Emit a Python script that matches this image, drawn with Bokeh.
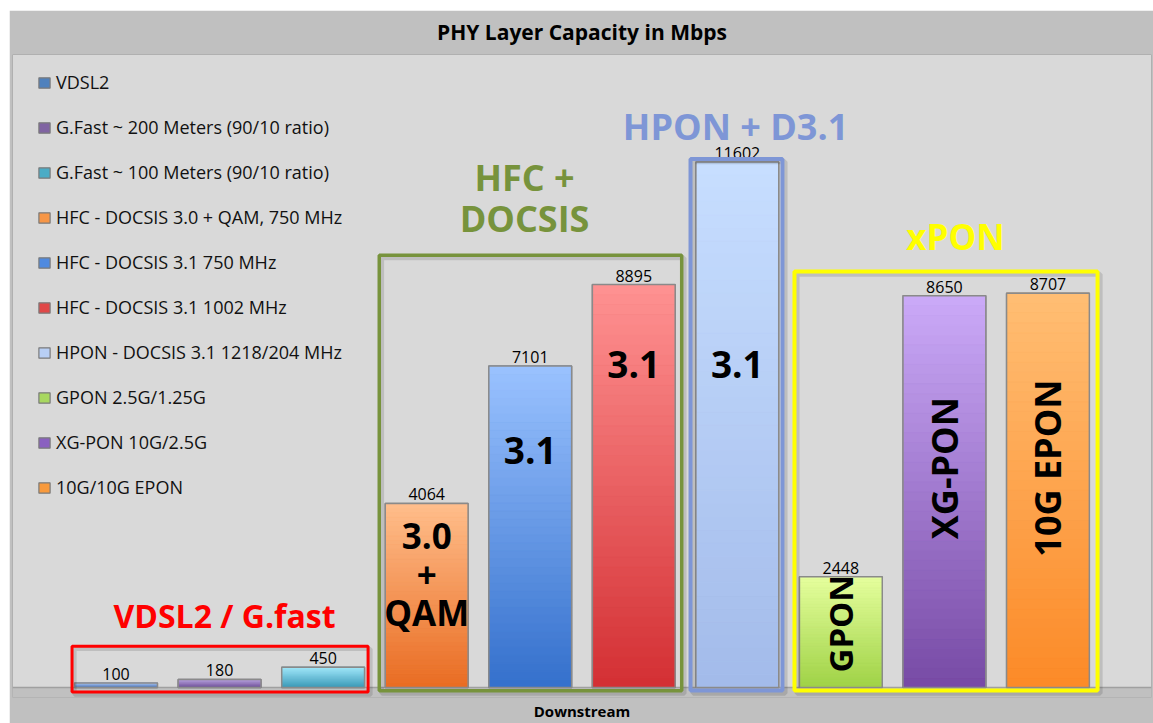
import numpy as np
from bokeh.plotting import figure
from bokeh.layouts import column, row
from bokeh.models import (ColumnDataSource, BoxAnnotation, Span, LinearAxis, FixedTicker,
                          Legend, LegendItem, Range1d, Spacer)
from bokeh.core.properties import value
from bokeh.embed import file_html
from bokeh.resources import INLINE

# ---------------- data ----------------
title_text = "PHY Layer Capacity in Mbps"
category = "Downstream"
series = [
    "VDSL2",
    "G.Fast ~ 200 Meters (90/10 ratio)",
    "G.Fast ~ 100 Meters (90/10 ratio)",
    "HFC - DOCSIS 3.0 + QAM, 750 MHz",
    "HFC - DOCSIS 3.1 750 MHz",
    "HFC - DOCSIS 3.1 1002 MHz",
    "HPON - DOCSIS 3.1 1218/204 MHz",
    "GPON 2.5G/1.25G",
    "XG-PON 10G/2.5G",
    "10G/10G EPON",
]
capacity = [100, 180, 450, 4064, 7101, 8895, 11602, 2448, 8650, 8707]
bar_tags = ["", "", "", "3.0\n+\nQAM", "3.1", "3.1", "3.1", "GPON", "XG-PON", "10G EPON"]
groups = ["VDSL2 / G.fast", "HFC +\nDOCSIS", "HPON + D3.1", "xPON"]
group_first = [0, 3, 6, 7]
group_last = [2, 5, 6, 9]

# ---------------- styles ----------------
top_colors = ["#a3bdea", "#b7a0dc", "#a2e8fb", "#ffbe8c", "#9ac2ff", "#ff9292",
              "#c7deff", "#e6ff9e", "#cbaaf8", "#ffbe74"]
bottom_colors = ["#3d6db6", "#694a93", "#3898b6", "#e96c22", "#3470cc", "#d32f33",
                 "#a3bbea", "#9fd246", "#774aa5", "#fc8a27"]
legend_colors = ["#4f81bd", "#8064a2", "#4bacc6", "#f79646", "#4f8ae0", "#e04848",
                 "#b8cff5", "#a8d860", "#8a60c0", "#f99a3c"]
group_colors = ["#ff0000", "#77933c", "#7e96d6", "#ffff00"]
group_sizes = ["32px", "36px", "36px", "35px"]
box_widths = [3, 3.5, 4, 4]
# layout of annotation boxes (padding in bar units / data units)
box_pad_left = [0.425, 0.458, 0.452, 0.448]
box_pad_right = [0.434, 0.463, 0.436, 0.479]
box_top = [912, 9542, 11668, 9185]
box_bottom = [-99, -71, -66, -66]
# layout of in-bar tags and group labels
tag_y = [0, 0, 0, 2505, 5230, 7141, 7141, 1410, 4845, 4845]
tag_rot = [0, 0, 0, 0, 0, 0, 0, 1, 1, 1]
tag_size = ["", "", "", "35px", "37px", "37px", "37px", "33px", "36px", "36px"]
group_x = [1.048, 3.945, 5.983, 8.107]
group_y = [1582, 10811, 12393, 9954]

FONT = "Open Sans"
BORDER = "#c0c0c0"
PANEL = "#d9d9d9"

idx = list(range(len(series)))

p = figure(width=1144, height=713, output_backend="svg", toolbar_location=None,
           x_range=Range1d(-1.0, 10.0), y_range=Range1d(-220, 13975),
           x_axis_location=None, y_axis_location=None,
           min_border_left=3, min_border_right=2, min_border_top=42, min_border_bottom=25,
           background_fill_color=PANEL, border_fill_color=BORDER)
p.outline_line_color = "#b0b0b0"
p.xgrid.visible = False
p.ygrid.visible = False

p.title.text = title_text
p.title.align = "center"
p.title.vertical_align = "top"
p.title.text_font = FONT
p.title.text_font_size = "21px"
p.title.text_font_style = "bold"
p.title.text_color = "#000000"
p.title.standoff = 14

# lower band below baseline
p.add_layout(BoxAnnotation(top=0, fill_color=BORDER, fill_alpha=1.0, line_color=None, level="underlay"))
p.add_layout(Span(location=0, dimension="width", line_color="#a0a0a0", line_width=1.5, level="underlay"))

src = ColumnDataSource(dict(x=idx, top=capacity, fill=legend_colors, name=series,
                            lbl=[str(v) for v in capacity]))
base = p.vbar(x="x", top="top", width=0.8, source=src, fill_color="fill",
              line_color="#7a7a7a", line_width=1.2)

def hx(c):
    c = c.lstrip("#")
    return np.array([int(c[i:i + 2], 16) for i in (0, 2, 4)], dtype=float)

def mix(a, b, f):
    r = a + (b - a) * f
    return "#%02x%02x%02x" % tuple(int(round(v)) for v in r)

N = 40
gx, gb, gt, gc = [], [], [], []
for i, v in enumerate(capacity):
    c0, c1 = hx(bottom_colors[i]), hx(top_colors[i])
    for k in range(N):
        gx.append(i)
        gb.append(v * k / N)
        gt.append(v * (k + 1) / N)
        gc.append(mix(c0, c1, (k + 0.5) / N))
p.vbar(x=gx, bottom=gb, top=gt, width=0.8, fill_color=gc, line_color=gc, line_width=0.6)

p.vbar(x="x", top="top", width=0.8, source=src, fill_color=None,
       line_color="#8a8a8a", line_width=1.5)

# value labels
p.text(x="x", y="top", text="lbl", source=src, text_align="center", text_baseline="bottom",
       y_offset=-3, text_font=value(FONT), text_font_size="16px", text_color="#000000")

# in-bar tags
tsrc = ColumnDataSource(dict(
    x=[i for i in idx if bar_tags[i]],
    y=[tag_y[i] for i in idx if bar_tags[i]],
    t=[bar_tags[i] for i in idx if bar_tags[i]],
    a=[tag_rot[i] * np.pi / 2 for i in idx if bar_tags[i]],
    s=[tag_size[i] for i in idx if bar_tags[i]],
))
p.text(x="x", y="y", text="t", angle="a", source=tsrc, text_align="center",
       text_baseline="middle", text_font=value(FONT), text_font_size="s",
       text_font_style="bold", text_color="#000000", text_line_height=0.82)

# group boxes (soft shadow + outline)
for g in range(len(groups)):
    p.add_layout(BoxAnnotation(left=group_first[g] - box_pad_left[g] + 0.025,
                               right=group_last[g] + box_pad_right[g] + 0.025,
                               top=box_top[g] - 60, bottom=box_bottom[g] - 60,
                               fill_color=None, fill_alpha=0,
                               line_color="#000000", line_width=box_widths[g] + 1,
                               line_alpha=0.12))
for g in range(len(groups)):
    p.add_layout(BoxAnnotation(left=group_first[g] - box_pad_left[g],
                               right=group_last[g] + box_pad_right[g],
                               top=box_top[g], bottom=box_bottom[g],
                               fill_color=None, fill_alpha=0,
                               line_color=group_colors[g], line_width=box_widths[g],
                               line_alpha=1.0))

gsrc = ColumnDataSource(dict(x=group_x, y=group_y, t=groups, c=group_colors, s=group_sizes))
p.text(x="x", y="y", text="t", source=gsrc, text_align="center", text_baseline="middle",
       text_font=value(FONT), text_font_size="s", text_font_style="bold",
       text_color="c", text_line_height=0.84)

# category axis
ax = LinearAxis(ticker=FixedTicker(ticks=[4.5]), major_label_overrides={4.5: category})
ax.axis_line_color = None
ax.major_tick_line_color = None
ax.minor_tick_line_color = None
ax.major_tick_out = 0
ax.major_tick_in = 0
ax.minor_tick_out = 0
ax.major_label_standoff = 3
ax.major_label_text_font = FONT
ax.major_label_text_font_size = "15px"
ax.major_label_text_font_style = "bold"
ax.major_label_text_color = "#000000"
p.add_layout(ax, "below")

legend = Legend(items=[LegendItem(label=series[i], renderers=[base], index=i) for i in idx],
                location=(25, 196))
legend.background_fill_alpha = 0
legend.border_line_color = None
legend.padding = 0
legend.margin = 0
legend.spacing = 17
legend.glyph_width = 14
legend.glyph_height = 13
legend.label_height = 28
legend.label_standoff = 5
legend.label_text_font = FONT
legend.label_text_font_size = "18px"
legend.label_text_color = "#111111"
p.add_layout(legend)

page = column(Spacer(height=10), row(Spacer(width=9), p))
open("out.html", "w").write(file_html(page, INLINE))
